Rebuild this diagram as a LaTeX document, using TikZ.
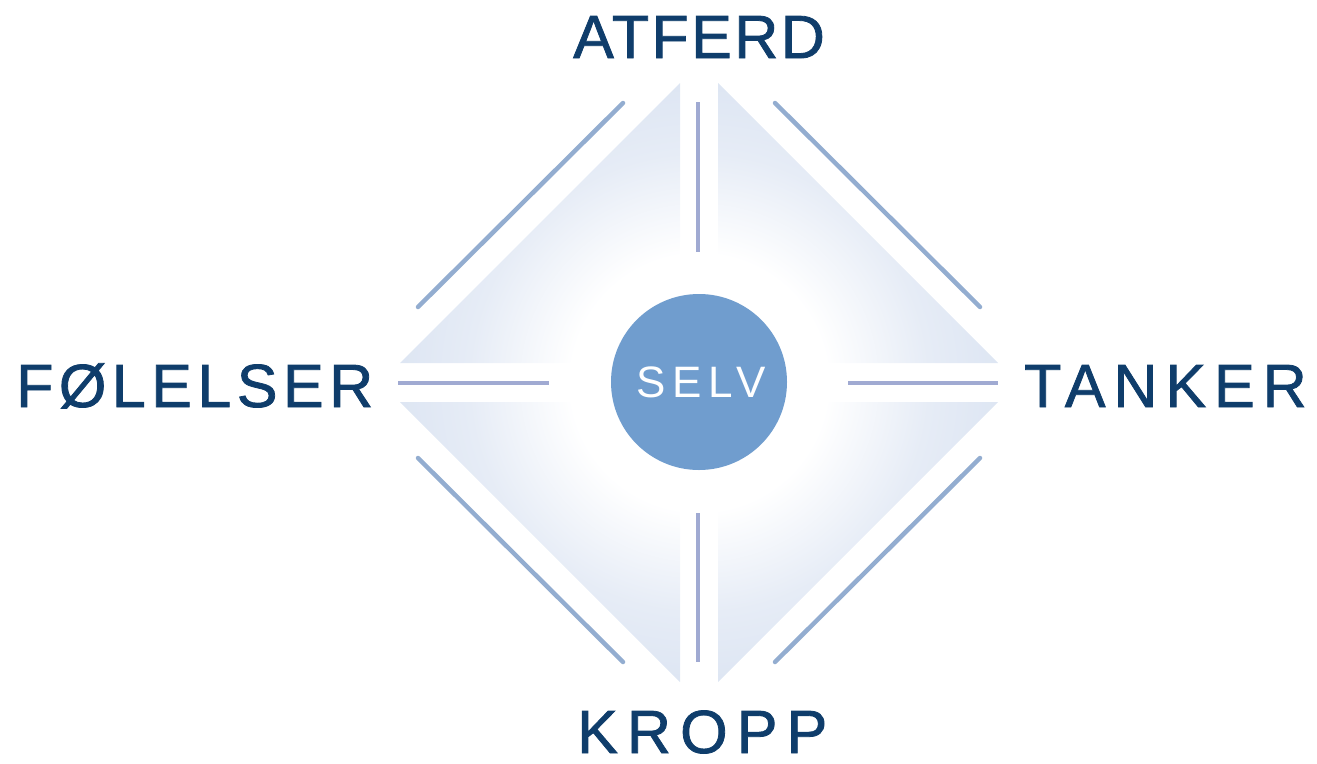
\documentclass[tikz,border=0pt]{standalone}
\usepackage{fontspec}
\setmainfont{Liberation Sans}
\newfontfamily\lblA[LetterSpace=4,FakeBold=1.3]{Liberation Sans}
\newfontfamily\lblF[LetterSpace=9,FakeBold=1.3]{Liberation Sans}
\newfontfamily\lblT[LetterSpace=13,FakeBold=1.3]{Liberation Sans}
\newfontfamily\lblK[LetterSpace=15,FakeBold=1.3]{Liberation Sans}
\newfontfamily\selvfont[LetterSpace=15]{Liberation Sans}
\definecolor{navy}{HTML}{0F3D6B}
\definecolor{selvblue}{HTML}{709DCE}
\definecolor{diagline}{HTML}{93ADD0}
\definecolor{horline}{HTML}{A0AAD2}
\definecolor{trimid}{HTML}{E6ECF6}
\definecolor{triblue}{HTML}{D0DCEE}
\definecolor{triblueb}{HTML}{BECDE5}
\pgfdeclareradialshading{diamshade}{\pgfpoint{0bp}{0bp}}{color(0bp)=(white); color(10bp)=(white); color(18bp)=(trimid); color(32bp)=(triblue); color(50bp)=(triblueb)}
\tikzset{
  lbl/.style={inner sep=0pt, anchor=base west, text=navy},
  deco/.style={draw=diagline, line width=4.5pt, line cap=round},
  hdeco/.style={draw=horline, line width=4.5pt, line cap=butt},
}
\begin{document}
\begin{tikzpicture}[x=1pt,y=-1pt]
\useasboundingbox (0,0) rectangle (1317,763);
\begin{scope}
\clip (680,83) -- (400,363) -- (680,363) -- cycle
      (718,83) -- (998,363) -- (718,363) -- cycle
      (400,402) -- (680,402) -- (680,682) -- cycle
      (718,402) -- (998,402) -- (718,682) -- cycle;
\shade[shading=diamshade] (379,62.5) rectangle (1019,702.5);
\end{scope}
% lines in the gaps
\draw[hdeco] (698,102) -- (698,252);
\draw[hdeco] (698,513) -- (698,662);
\draw[hdeco] (398,383) -- (549,383);
\draw[hdeco] (848,383) -- (998,383);
% outer diagonal lines
\draw[deco] (418,307) -- (623,103);
\draw[deco] (775,103) -- (980,307);
\draw[deco] (418,458) -- (623,662);
\draw[deco] (775,662) -- (980,458);
% centre
\fill[white, opacity=0.9] (699,382) circle[radius=94];
\node[circle, fill=selvblue, minimum size=176pt, inner sep=0pt] (selvc) at (699,382) {};
\node[inner sep=0pt, anchor=base, text=white, font=\selvfont\fontsize{44}{44}\selectfont] (selv) at (701,397) {SELV};
% labels
\node[lbl, font=\lblA\fontsize{61}{61}\selectfont] (atferd) at (573,58) {ATFERD};
\node[lbl, font=\lblF\fontsize{61}{61}\selectfont] (folelser) at (16,407) {FØLELSER};
\node[lbl, font=\lblT\fontsize{61}{61}\selectfont] (tanker) at (1024,407) {TANKER};
\node[lbl, font=\lblK\fontsize{61}{61}\selectfont] (kropp) at (577,753) {KROPP};
\end{tikzpicture}
\end{document}
